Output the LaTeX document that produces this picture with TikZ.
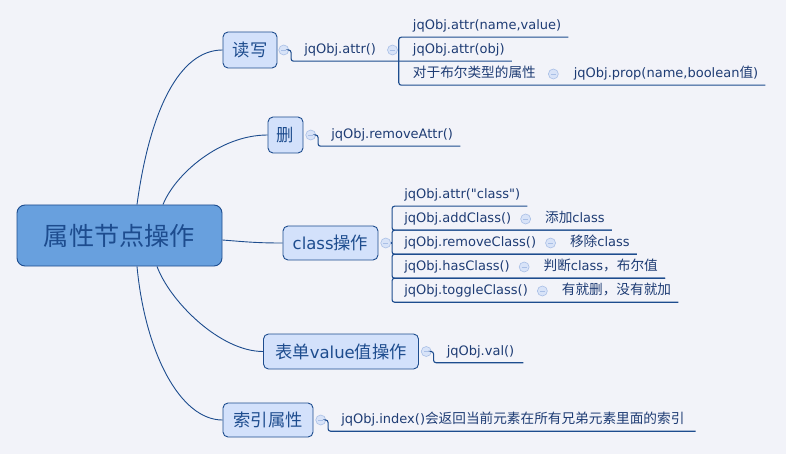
\documentclass[tikz,border=0pt]{standalone}
\usepackage{fontspec}
\setmainfont{DejaVu Sans}[Ligatures=TeXOff]
\newfontfamily\cjk[Scale=1.05]{Noto Sans CJK SC}
\usepackage{tikz}
\usetikzlibrary{positioning}
\definecolor{paper}{HTML}{F2F3F9}
\definecolor{navy}{HTML}{1D4C8E}
\definecolor{inktext}{HTML}{1E3C74}
\definecolor{rootfill}{HTML}{68A0DE}
\definecolor{topicfill}{HTML}{D3E1FB}
\definecolor{foldfill}{HTML}{D8E3F8}
\definecolor{foldline}{HTML}{A9BFE6}
\newcommand\zh[1]{{\cjk #1}}

\tikzset{
  rootnode/.style={draw=navy, fill=rootfill, rounded corners=8pt, line width=0.9pt,
    minimum width=205pt, minimum height=61pt, text=navy, font=\fontsize{24}{28}\selectfont},
  topic/.style={draw=navy, fill=topicfill, rounded corners=5pt, line width=0.9pt,
    minimum height=35pt, inner xsep=2pt, text=navy, font=\fontsize{16.5}{20}\selectfont},
  leaf/.style={anchor=west, inner xsep=0pt, inner ysep=0pt, minimum height=22pt,
    text height=10pt, text depth=3pt, text=inktext, font=\fontsize{13}{15}\selectfont},
  fold/.style={circle, draw=foldline, fill=foldfill, minimum size=10pt, inner sep=0pt, line width=0.6pt,
    path picture={\draw[foldline, line width=0.8pt] ([xshift=-2.5pt]path picture bounding box.center)
      -- ([xshift=2.5pt]path picture bounding box.center);}},
  branch/.style={draw=navy, line width=0.9pt},
  link/.style={draw=navy, line width=1.1pt, rounded corners=2.5pt},
}

\begin{document}
\begin{tikzpicture}[x=1pt, y=-1pt]
\fill[paper] (0,0) rectangle (786,454);

% central topic and its branches
\node[rootnode] (root) at (119.5,235.5) {\zh{属性节点操作}};
\node[topic, minimum width=54pt, minimum height=36pt] (rw) at (250,50) {\zh{读写}};
\node[topic, minimum width=35pt, minimum height=36pt] (del) at (285.5,135) {\zh{删}};
\node[topic, minimum width=95pt, minimum height=34pt] (cls) at (330.5,243) {class\zh{操作}};
\node[topic, minimum width=155pt] (form) at (341,351.5) {\zh{表单}value\zh{值操作}};
\node[topic, minimum width=90pt, minimum height=34pt] (idx) at (268,420) {\zh{索引属性}};

\draw[branch] ([xshift=17.5pt]root.north) .. controls +(13,-95) and +(-43,0) .. (rw.west);
\draw[branch] ([xshift=43.5pt]root.north) .. controls +(12,-30) and +(-48,0) .. (del.west);
\draw[branch] ([yshift=-4.5pt]root.east) .. controls +(25,2) and +(-25,0) .. (cls.west);
\draw[branch] ([xshift=37.5pt]root.south) .. controls +(13,35) and +(-43,0) .. (form.west);
\draw[branch] ([xshift=17.5pt]root.south) .. controls +(8,85) and +(-43,0) .. (idx.west);

% read / write
\node[fold, right=1pt of rw] (fRW) {};
\node[leaf, right=15pt of fRW] (attr) {jqObj.attr()};
\node[fold, right=11pt of attr] (fAttr) {};
\node[leaf, right=15pt of fAttr] (attrObj) {jqObj.attr(obj)};
\node[leaf] (attrNV) at ([yshift=24pt]attrObj.west) {jqObj.attr(name,value)};
\node[leaf] (boolAttr) at ([yshift=-24pt]attrObj.west) {\zh{对于布尔类型的属性}};
\node[fold, right=12pt of boolAttr] (fBool) {};
\node[leaf, right=15pt of fBool] (prop) {jqObj.prop(name,boolean\zh{值})};
\coordinate (rwBar) at ([xshift=-14pt]attrObj.south west);
\draw[link] (fRW.east) -- ++(2,0) |- ([xshift=7pt]attrObj.south east);
\draw[link] ([xshift=7pt]attrNV.south east) -| (rwBar) |- ([xshift=7pt]prop.south east);

% delete
\node[fold, right=2pt of del] (fDel) {};
\node[leaf, right=15pt of fDel] (rmAttr) {jqObj.removeAttr()};
\draw[link] (fDel.east) -- ++(2,0) |- ([xshift=7pt]rmAttr.south east);

% class
\node[fold, right=2pt of cls] (fCls) {};
\node[leaf, right=13pt of fCls] (rmCls) {jqObj.removeClass()};
\node[leaf] (addCls) at ([yshift=24pt]rmCls.west) {jqObj.addClass()};
\node[leaf] (clsAttr) at ([yshift=48pt]rmCls.west) {jqObj.attr("class")};
\node[leaf] (hasCls) at ([yshift=-24pt]rmCls.west) {jqObj.hasClass()};
\node[leaf] (togCls) at ([yshift=-48pt]rmCls.west) {jqObj.toggleClass()};
\foreach \m/\txt in {addCls/{\zh{添加}class}, rmCls/{\zh{移除}class},
    hasCls/{\zh{判断}class\zh{，布尔值}}, togCls/{\zh{有就删，没有就加}}}{
  \node[fold, right=9pt of \m] (f\m) {};
  \node[leaf, right=14pt of f\m] (n\m) {\txt};
  \coordinate (e\m) at ([xshift=7pt]n\m.south east);
}
\coordinate (eclsAttr) at ([xshift=7pt]clsAttr.south east);
\coordinate (clsBar) at ([xshift=-12pt]rmCls.west);
\draw[link] (fCls.east) -- (clsBar);
\foreach \u/\v in {eclsAttr/eaddCls, eaddCls/ermCls, ermCls/ehasCls, ehasCls/etogCls}
  \draw[link] (\u) -| (clsBar |- \v) -- (\v);

% form value
\node[fold, right=2pt of form] (fForm) {};
\node[leaf, right=15pt of fForm] (val) {jqObj.val()};
\draw[link] (fForm.east) -- ++(2,0) |- ([xshift=9pt]val.south east);

% index
\node[fold, right=2pt of idx] (fIdx) {};
\node[leaf, right=15pt of fIdx] (index) {jqObj.index()\zh{会返回当前元素在所有兄弟元素里面的索引}};
\draw[link] (fIdx.east) -- ++(2,0) |- ([xshift=11pt]index.south east);

\end{tikzpicture}
\end{document}
